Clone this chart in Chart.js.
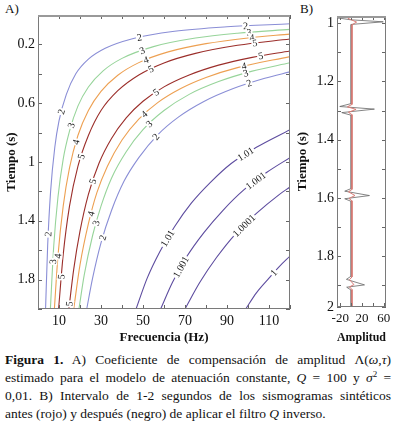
<!DOCTYPE html>
<html>
<head>
<meta charset="utf-8">
<script src="https://cdn.jsdelivr.net/npm/chart.js@4.4.1/dist/chart.umd.min.js"></script>
<style>
  body { margin: 0; width: 395px; height: 431px; background: #fff; position: relative; overflow: hidden;
         font-family: "Liberation Serif", "Times New Roman", "DejaVu Serif", serif; color: #111; }
  #wrapA { position: absolute; left: 0; top: 0; width: 295px; height: 345px; }
  #wrapB { position: absolute; left: 295px; top: 0; width: 100px; height: 345px; }
  .tag { position: absolute; top: 1px; font-size: 13px; }
  #caption { position: absolute; left: 5px; top: 351px; width: 386px; font-size: 13.5px; line-height: 18px; }
  #caption div { text-align: justify; text-align-last: justify; white-space: nowrap; }
  #caption div.last { text-align-last: left; }
</style>
</head>
<body>
<div class="tag" style="left:5px">A)</div>
<div class="tag" style="left:300px">B)</div>
<div id="wrapA"><canvas id="chartA"></canvas></div>
<div id="wrapB"><canvas id="chartB"></canvas></div>
<div id="caption">
  <div><b>Figura 1.</b> A) Coeficiente de compensación de amplitud Λ(<i>ω</i>,<i>τ</i>)</div>
  <div>estimado para el modelo de atenuación constante, <i>Q</i> = 100 y <i>σ</i><sup style="font-size:9px;line-height:0">2</sup> =</div>
  <div>0,01. B) Intervalo de 1-2 segundos de los sismogramas sintéticos</div>
  <div class="last">antes (rojo) y después (negro) de aplicar el filtro <i>Q</i> inverso.</div>
</div>
<script>
  // Panel A contours: [frecuencia (Hz), tiempo (s)]
  const lev2a = [[3.6,2.0],[4.6,1.57],[6,1.2],[8,0.9],[10,0.72],[13.5,0.54],[18,0.4],[24,0.3],[32,0.226],[45,0.161],[65,0.111],[90,0.08],[120,0.06]];
  const lev3a = [[5.9,2.0],[7.5,1.57],[9.5,1.24],[12,0.98],[15,0.79],[19,0.62],[24,0.49],[31,0.38],[40,0.295],[55,0.215],[75,0.157],[95,0.124],[120,0.098]];
  const lev4a = [[7.8,2.0],[9.5,1.64],[12,1.3],[15,1.04],[19,0.82],[24,0.65],[30,0.52],[38,0.41],[48,0.324],[62,0.251],[80,0.195],[100,0.156],[120,0.13]];
  const lev5a = [[9.8,2.0],[12,1.63],[15,1.3],[19,1.03],[24,0.82],[30,0.65],[38,0.515],[48,0.408],[60,0.326],[75,0.261],[95,0.206],[120,0.163]];
  const lev5b = [[14.7,2.0],[17,1.73],[20,1.47],[24,1.22],[29,1.01],[35,0.84],[42,0.7],[50,0.587],[60,0.489],[72,0.408],[86,0.341],[102,0.288],[120,0.245]];
  const lev4b = [[17,2.0],[20,1.7],[24,1.42],[28,1.21],[33,1.03],[40,0.85],[48,0.708],[57,0.596],[68,0.5],[80,0.425],[95,0.358],[120,0.283]];
  const lev3b = [[19.5,2.0],[22,1.77],[26,1.5],[30,1.3],[35,1.11],[42,0.93],[50,0.78],[60,0.65],[72,0.54],[86,0.453],[102,0.382],[120,0.325]];
  const lev2b = [[23.2,2.0],[26,1.79],[30,1.55],[35,1.33],[41,1.13],[48,0.97],[57,0.815],[67,0.693],[79,0.588],[93,0.5],[108,0.43],[120,0.387]];
  const lev101 = [[46.7,2.0],[52,1.79],[58,1.61],[65,1.44],[73,1.28],[82,1.14],[92,1.01],[104,0.9],[120,0.78]];
  const lev1001 = [[58.4,2.0],[64,1.82],[71,1.64],[79,1.48],[88,1.33],[98,1.19],[109,1.07],[120,0.97]];
  const lev10001 = [[70,2.0],[77,1.82],[85,1.65],[94,1.49],[104,1.35],[115,1.22],[120,1.17]];
  const lev1 = [[98.9,2.0],[104,1.89],[110,1.79],[115,1.71],[120,1.64]];

  // where each contour carries its value label (frecuencia, Hz)
  const lab2a = [98.9, 48.3, 11.2, 4.9];
  const lab3a = [100.5, 49.7, 15.9, 7.1];
  const lab4a = [101.9, 51.4, 18.2, 9.5];
  const lab5a = [103.3, 53.8, 20.6, 11.1];
  const lab5b = [106, 56.2, 26.1, 15.0];
  const lab4b = [98.1, 50.6, 25.3];
  const lab3b = [98.9, 53, 27.7];
  const lab2b = [100.5, 56.2, 30.8];
  const lab101 = [98.9, 61.7];
  const lab1001 = [103.7, 68.1];
  const lab10001 = [98.1];
  const lab1 = [112.3];

  // Panel B traces: [amplitud, tiempo (s)]
  const trazaNegra = [[0,0.975],[-24.5,0.9815],[-1,0.988],[59,0.995],[0,1.004],[0,1.276],[-20.9,1.286],[42.7,1.295],[-17.3,1.307],[0,1.316],
    [0,1.568],[-11.8,1.577],[33.6,1.592],[-11.8,1.603],[0,1.612],[0,1.869],[-8.7,1.88],[24.5,1.899],[-8.2,1.907],[0,1.917],[0,1.975]];
  const trazaRoja = [[1.5,0.975],[-6,0.983],[1.5,0.989],[10,0.996],[1.5,1.005],[1.5,1.279],[-7,1.287],[9,1.296],[-5,1.306],[1.5,1.314],
    [1.5,1.571],[-5,1.579],[7,1.592],[-4,1.602],[1.5,1.61],[1.5,1.872],[-3,1.881],[5,1.898],[-3,1.906],[1.5,1.915],[1.5,1.975]];

  const serif = '"Liberation Serif", "Times New Roman", "DejaVu Serif", serif';
  const col = { c2: '#8a8ed6', c3: '#97d49a', c4: '#eda052', c5: '#9b2e2a', c1: '#5d4c9f' };

  const toXY = arr => arr.map(([x, y]) => ({ x, y }));

  function contour(pts, label, color, labelAt) {
    return {
      data: toXY(pts), label, labelAt,
      borderColor: color, borderWidth: 1.1, pointRadius: 0,
      showLine: true, cubicInterpolationMode: 'monotone', fill: false
    };
  }

  // value labels written along the contour lines, with a white box like the original
  const contourLabels = {
    id: 'contourLabels',
    afterDatasetsDraw(chart) {
      const { ctx } = chart;
      const xs = chart.scales.x;
      ctx.save();
      ctx.font = '10px ' + serif;
      ctx.textAlign = 'center';
      ctx.textBaseline = 'middle';
      chart.data.datasets.forEach((ds, i) => {
        if (!ds.labelAt) return;
        const pts = chart.getDatasetMeta(i).data;
        ds.labelAt.forEach(f => {
          const px = xs.getPixelForValue(f);
          for (let k = 1; k < pts.length; k++) {
            const a = pts[k - 1], b = pts[k];
            if (px < a.x || px > b.x) continue;
            const u = (px - a.x) / ((b.x - a.x) || 1);
            const py = a.y + u * (b.y - a.y);
            let ang = Math.atan2(b.y - a.y, b.x - a.x);
            if (ang > Math.PI / 2) ang -= Math.PI;
            if (ang < -Math.PI / 2) ang += Math.PI;
            const w = ctx.measureText(ds.label).width;
            ctx.save();
            ctx.translate(px, py);
            ctx.rotate(ang);
            ctx.fillStyle = '#fff';
            ctx.fillRect(-w / 2 - 1, -4.5, w + 2, 9);
            ctx.fillStyle = '#222';
            ctx.fillText(ds.label, 0, 0.5);
            ctx.restore();
            break;
          }
        });
      });
      ctx.restore();
    }
  };

  // frame with inward ticks on the four sides
  const frameTicks = {
    id: 'frameTicks',
    afterDraw(chart) {
      const { ctx, chartArea: ca } = chart;
      const { x, y } = chart.scales;
      ctx.save();
      ctx.strokeStyle = '#666';
      ctx.lineWidth = 1;
      ctx.beginPath();
      x.ticks.forEach(t => {
        const p = Math.round(x.getPixelForValue(t.value)) + 0.5;
        ctx.moveTo(p, ca.bottom); ctx.lineTo(p, ca.bottom - 4);
        ctx.moveTo(p, ca.top); ctx.lineTo(p, ca.top + 4);
      });
      y.ticks.forEach(t => {
        const p = Math.round(y.getPixelForValue(t.value)) + 0.5;
        ctx.moveTo(ca.left, p); ctx.lineTo(ca.left + 4, p);
        ctx.moveTo(ca.right, p); ctx.lineTo(ca.right - 4, p);
      });
      ctx.stroke();
      ctx.strokeStyle = '#7a7a7a';
      ctx.strokeRect(Math.round(ca.left) + 0.5, Math.round(ca.top) + 0.5,
        Math.round(ca.width) - 1, Math.round(ca.height) - 1);
      ctx.strokeStyle = '#999';
      ctx.lineWidth = 2;
      ctx.beginPath();
      ctx.moveTo(ca.left, Math.round(ca.top) + 1);
      ctx.lineTo(ca.right, Math.round(ca.top) + 1);
      ctx.stroke();
      ctx.restore();
    }
  };

  const tickFont = { family: serif, size: 14 };
  const titleFont = { family: serif, size: 13, weight: 'bold' };

  new Chart(document.getElementById('chartA'), {
    type: 'scatter',
    data: {
      datasets: [
        contour(lev2a, '2', col.c2, lab2a),
        contour(lev3a, '3', col.c3, lab3a),
        contour(lev4a, '4', col.c4, lab4a),
        contour(lev5a, '5', col.c5, lab5a),
        contour(lev5b, '5', col.c5, lab5b),
        contour(lev4b, '4', col.c4, lab4b),
        contour(lev3b, '3', col.c3, lab3b),
        contour(lev2b, '2', col.c2, lab2b),
        contour(lev101, '1.01', col.c1, lab101),
        contour(lev1001, '1.001', col.c1, lab1001),
        contour(lev10001, '1.0001', col.c1, lab10001),
        contour(lev1, '1', col.c1, lab1)
      ]
    },
    options: {
      responsive: true,
      maintainAspectRatio: false,
      animation: false,
      layout: { padding: { top: 15, right: 5, left: 0, bottom: 0 } },
      plugins: { legend: { display: false }, tooltip: { enabled: false } },
      scales: {
        x: {
          type: 'linear', min: 0, max: 120,
          grid: { display: false, drawTicks: false }, border: { display: false },
          ticks: {
            stepSize: 10, autoSkip: false, maxRotation: 0, padding: 4, color: '#111', font: tickFont,
            callback: v => (v % 20 === 10 ? String(v) : '')
          },
          title: { display: true, text: 'Frecuencia (Hz)', color: '#111', font: titleFont, padding: 0 },
          afterFit: s => { s.height = 36; }
        },
        y: {
          type: 'linear', min: 0, max: 2, reverse: true,
          grid: { display: false, drawTicks: false }, border: { display: false },
          ticks: {
            stepSize: 0.2, autoSkip: false, padding: 3, color: '#111', font: tickFont,
            callback: v => { const k = Math.round(v * 10); return k % 4 === 2 ? String(k / 10) : ''; }
          },
          title: { display: true, text: 'Tiempo (s)', color: '#111', font: titleFont, padding: { top: 4 } },
          afterFit: s => { s.width = 38; }
        }
      }
    },
    plugins: [contourLabels, frameTicks]
  });

  new Chart(document.getElementById('chartB'), {
    type: 'scatter',
    data: {
      datasets: [
        { data: toXY(trazaRoja), borderColor: '#d87a74', borderWidth: 1, pointRadius: 0, showLine: true, tension: 0 },
        { data: toXY(trazaNegra), borderColor: '#666', borderWidth: 0.8, pointRadius: 0, showLine: true, tension: 0 }
      ]
    },
    options: {
      responsive: true,
      maintainAspectRatio: false,
      animation: false,
      layout: { padding: { top: 16, right: 9, left: 0, bottom: 0 } },
      plugins: { legend: { display: false }, tooltip: { enabled: false } },
      scales: {
        x: {
          type: 'linear', min: -26, max: 64,
          grid: { display: false, drawTicks: false }, border: { display: false },
          afterBuildTicks: s => { s.ticks = [-20, 0, 20, 40, 60].map(value => ({ value })); },
          ticks: {
            autoSkip: false, maxRotation: 0, padding: 4, color: '#111', font: { family: serif, size: 13 },
            callback: v => (v === 0 || v === 40 ? '' : String(v))
          },
          title: { display: true, text: 'Amplitud', color: '#111', font: titleFont, padding: 0 },
          afterFit: s => { s.height = 38; }
        },
        y: {
          type: 'linear', min: 0.975, max: 1.975, reverse: true,
          grid: { display: false, drawTicks: false }, border: { display: false },
          afterBuildTicks: s => {
            s.ticks = [1, 1.1, 1.2, 1.3, 1.4, 1.5, 1.6, 1.7, 1.8, 1.9].map(value => ({ value }));
            s.ticks.push({ value: s.max });
          },
          ticks: {
            autoSkip: false, padding: 3, color: '#111', font: tickFont,
            callback: v => { const k = Math.round(v * 10); return k % 2 === 0 ? String(k / 10) : ''; }
          },
          title: { display: true, text: 'Tiempo (s)', color: '#111', font: titleFont, padding: 0 },
          afterFit: s => { s.width = 42; }
        }
      }
    },
    plugins: [frameTicks]
  });
</script>
</body>
</html>
